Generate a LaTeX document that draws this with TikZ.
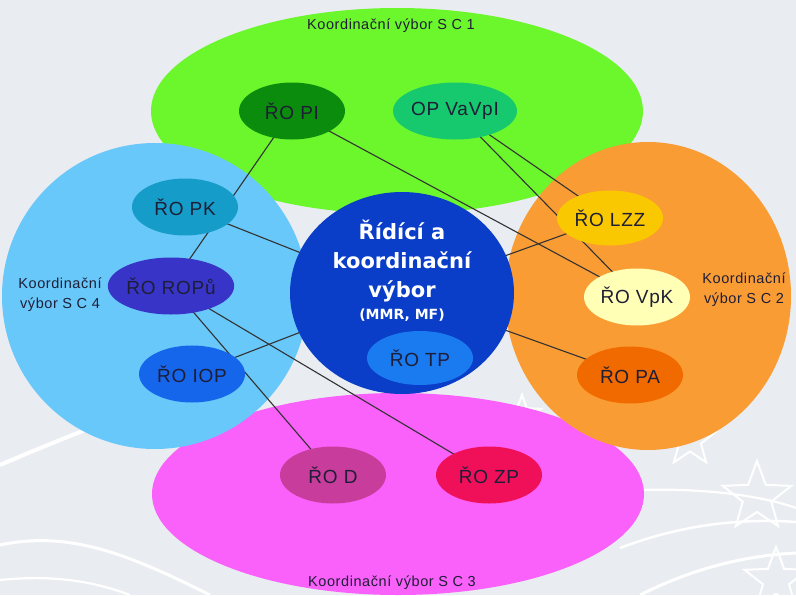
\documentclass[tikz,border=0pt]{standalone}
\usepackage{fontspec}
\setmainfont{Liberation Sans}
\newfontfamily\headfont{DejaVu Sans}
\newfontfamily\spacedfont[LetterSpace=4]{Liberation Sans}
\usetikzlibrary{shapes.geometric}

\pgfdeclarelayer{bg}
\pgfdeclarelayer{links}
\pgfsetlayers{bg,links,main}

\definecolor{bgcol}{RGB}{233,236,241}
\definecolor{scgreen}{RGB}{108,246,44}
\definecolor{scblue}{RGB}{104,200,250}
\definecolor{scorange}{RGB}{250,156,52}
\definecolor{scpink}{RGB}{250,96,250}
\definecolor{rkvblue}{RGB}{10,62,200}
\definecolor{rotext}{RGB}{30,30,55}
\definecolor{cPI}{RGB}{12,140,12}
\definecolor{cVaVpI}{RGB}{22,200,110}
\definecolor{cPK}{RGB}{22,156,200}
\definecolor{cROPu}{RGB}{56,52,200}
\definecolor{cIOP}{RGB}{22,102,236}
\definecolor{cLZZ}{RGB}{250,200,0}
\definecolor{cVpK}{RGB}{255,255,182}
\definecolor{cPA}{RGB}{240,106,0}
\definecolor{cTP}{RGB}{26,122,240}
\definecolor{cD}{RGB}{200,60,155}
\definecolor{cZP}{RGB}{240,16,90}

\tikzset{
  sc/.style={ellipse, inner sep=0pt},
  ro/.style={ellipse, inner sep=0pt, minimum width=106, minimum height=57,
    text=rotext, font=\spacedfont\fontsize{19}{22}\selectfont},
  link/.style={draw=black!80, line width=1.1},
  sclabel/.style={text=rotext, font=\spacedfont\fontsize{14.5}{20}\selectfont, align=center},
  deco/.style={draw=white, line width=2.2},
  decostar/.style={star, star points=5, star point ratio=2.4, draw=white, line width=2, inner sep=0pt}
}

\begin{document}
\begin{tikzpicture}[x=1pt,y=1pt,yscale=-1]
  \useasboundingbox (0,0) rectangle (796,595);

  \begin{pgfonlayer}{bg}
    % background
    \fill[bgcol] (0,0) rectangle (796,595);
    % white arcs and stars
    \draw[deco, line width=4] (0,465) .. controls (30,452) and (60,440) .. (90,428);
    \draw[deco, line width=3] (0,545) .. controls (70,530) and (130,555) .. (210,595);
    \draw[deco] (0,580) .. controls (50,575) and (90,580) .. (130,595);
    \draw[deco] (640,490) .. controls (700,488) and (760,495) .. (796,508);
    \draw[deco, line width=2.5] (620,548) .. controls (680,525) and (740,518) .. (796,522);
    \draw[deco, line width=3] (640,595) .. controls (690,570) and (740,556) .. (796,553);
    \node[decostar, minimum size=72] (star1) at (757,497) {};
    \node[decostar, minimum size=66] (star2) at (776,580) {};
    \node[decostar, minimum size=55] (star3) at (690,440) {};
    \node[decostar, minimum size=40] (star4) at (522,415) {};

    % Shape: Ellipse SC1
    \node[sc, fill=scgreen, minimum width=492, minimum height=206] (sc1) at (397,111) {};
    % Shape: Ellipse SC3
    \node[sc, fill=scpink, minimum width=492, minimum height=202] (sc3) at (398,494) {};
    % Shape: Circle SC4
    \node[sc, fill=scblue, minimum width=306, minimum height=306] (sc4) at (155,296) {};
    % Shape: Circle SC2
    \node[sc, fill=scorange, minimum width=286, minimum height=308] (sc2) at (648,296) {};
  \end{pgfonlayer}

  % Text Node
  \node[sclabel] (lbl1) at (391,26) {Koordinační výbor S C 1};
  \node[sclabel] (lbl4) at (60,295) {Koordinační\\výbor S C 4};
  \node[sclabel] (lbl2) at (744,290) {Koordinační\\výbor S C 2};
  \node[sclabel] (lbl3) at (392,583) {Koordinační výbor S C 3};

  % central committee
  \node[sc, fill=rkvblue, minimum width=224, minimum height=202] (rkv) at (402,293) {};
  \node[text=white, align=center, font=\headfont\bfseries\fontsize{21}{29}\selectfont] (rkvtext) at (402,271)
    {Řídící a\\koordinační\\výbor\\[-7pt]{\fontsize{14}{16}\selectfont (MMR, MF)}};

  % managing authorities
  \node[ro, fill=cPI] (pi) at (292,111) {ŘO PI};
  \node[ro, fill=cVaVpI] (vavpi) at (455,111) {OP VaVpI};
  \node[ro, fill=cPK] (pk) at (185,207) {ŘO PK};
  \node[ro, fill=cROPu] (ropu) at (171,286) {ŘO ROPů};
  \node[ro, fill=cIOP] (iop) at (192,374) {ŘO IOP};
  \node[ro, fill=cLZZ, minimum height=55] (lzz) at (610,218) {ŘO LZZ};
  \node[ro, fill=cVpK] (vpk) at (637,297) {ŘO VpK};
  \node[ro, fill=cPA] (pa) at (630,375) {ŘO PA};
  \node[ro, fill=cTP, minimum height=54] (tp) at (420,358) {ŘO TP};
  \node[ro, fill=cD] (d) at (333,475) {ŘO D};
  \node[ro, fill=cZP] (zp) at (489,475) {ŘO ZP};

  \begin{pgfonlayer}{links}
    % Straight Lines
    \draw[link] (pi.center) -- (ropu.center);
    \draw[link] (pi.center) -- (vpk.center);
    \draw[link] (vavpi.center) -- (lzz.center);
    \draw[link] (vavpi.center) -- (vpk.center);
    \draw[link] (pk.center) -- (rkv.center);
    \draw[link] (iop.center) -- (rkv.center);
    \draw[link] (rkv.center) -- (lzz.center);
    \draw[link] (rkv.center) -- (pa.center);
    \draw[link] (ropu.center) -- (d.center);
    \draw[link] (ropu.center) -- (zp.center);
  \end{pgfonlayer}

\end{tikzpicture}
\end{document}
